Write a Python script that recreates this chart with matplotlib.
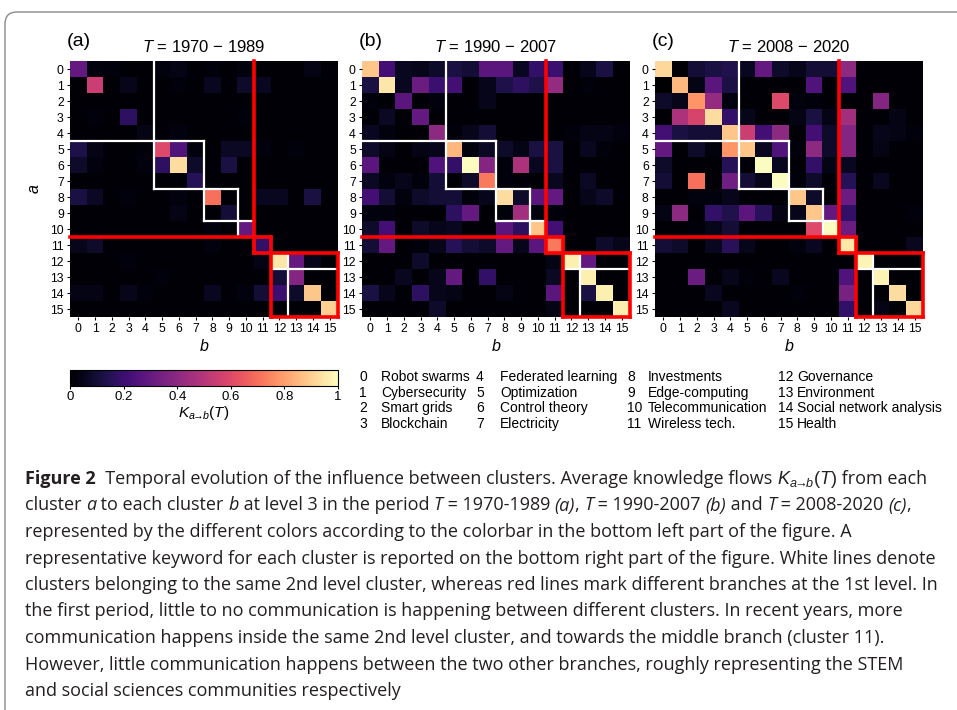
import numpy as np
import matplotlib
matplotlib.use("Agg")
import matplotlib.pyplot as plt
from matplotlib.patches import FancyBboxPatch

plt.rcParams['font.family'] = ['Liberation Sans', 'DejaVu Sans']
plt.rcParams['mathtext.fontset'] = 'custom'
plt.rcParams['mathtext.rm'] = 'Liberation Sans'
plt.rcParams['mathtext.it'] = 'Liberation Sans:italic'
plt.rcParams['mathtext.bf'] = 'Liberation Sans:bold'

# average knowledge flows K_{a->b}(T), rows = a, cols = b
K_1970_1989 = [
    [0.30,0.03,0.02,0.01,0.01,0.03,0.04,0.01,0.02,0.01,0.03,0.01,0.01,0.01,0.04,0.01],
    [0.01,0.55,0.01,0.05,0.01,0.01,0.02,0.01,0.06,0.01,0.08,0.06,0.01,0.01,0.01,0.01],
    [0.01,0.01,0.01,0.01,0.01,0.01,0.01,0.01,0.01,0.01,0.01,0.01,0.01,0.01,0.01,0.01],
    [0.01,0.02,0.01,0.17,0.01,0.01,0.01,0.01,0.01,0.01,0.02,0.01,0.01,0.01,0.01,0.01],
    [0.01,0.01,0.01,0.01,0.04,0.01,0.03,0.01,0.01,0.01,0.01,0.01,0.01,0.01,0.01,0.01],
    [0.13,0.04,0.01,0.01,0.02,0.60,0.25,0.03,0.01,0.07,0.07,0.03,0.01,0.02,0.01,0.01],
    [0.08,0.03,0.01,0.01,0.03,0.17,0.93,0.08,0.01,0.12,0.01,0.01,0.01,0.01,0.01,0.01],
    [0.01,0.01,0.01,0.01,0.01,0.01,0.01,0.15,0.01,0.01,0.01,0.01,0.01,0.01,0.01,0.01],
    [0.12,0.07,0.01,0.02,0.01,0.01,0.03,0.01,0.70,0.01,0.01,0.06,0.06,0.01,0.12,0.01],
    [0.01,0.01,0.01,0.01,0.01,0.01,0.04,0.01,0.01,0.10,0.01,0.01,0.01,0.01,0.01,0.01],
    [0.01,0.01,0.01,0.01,0.01,0.01,0.01,0.01,0.03,0.01,0.30,0.01,0.01,0.01,0.01,0.01],
    [0.05,0.08,0.01,0.01,0.01,0.01,0.01,0.01,0.03,0.01,0.01,0.18,0.01,0.01,0.01,0.01],
    [0.01,0.01,0.01,0.02,0.01,0.01,0.01,0.01,0.01,0.01,0.01,0.04,0.95,0.30,0.05,0.01],
    [0.01,0.01,0.01,0.01,0.01,0.02,0.01,0.01,0.01,0.01,0.01,0.01,0.10,0.38,0.01,0.01],
    [0.04,0.04,0.01,0.05,0.02,0.01,0.01,0.01,0.06,0.01,0.03,0.10,0.20,0.08,0.88,0.01],
    [0.01,0.01,0.01,0.01,0.01,0.01,0.01,0.01,0.01,0.01,0.01,0.01,0.01,0.01,0.01,0.90],
]

K_1990_2007 = [
    [0.88,0.22,0.06,0.05,0.08,0.12,0.10,0.28,0.28,0.06,0.18,0.20,0.01,0.05,0.12,0.01],
    [0.12,0.95,0.06,0.32,0.20,0.22,0.01,0.05,0.13,0.17,0.13,0.42,0.01,0.02,0.01,0.01],
    [0.02,0.01,0.28,0.01,0.03,0.01,0.01,0.05,0.01,0.01,0.01,0.01,0.01,0.01,0.01,0.01],
    [0.01,0.07,0.01,0.30,0.01,0.01,0.01,0.01,0.01,0.01,0.01,0.01,0.01,0.01,0.01,0.01],
    [0.06,0.03,0.01,0.01,0.40,0.02,0.05,0.10,0.01,0.01,0.01,0.01,0.02,0.04,0.04,0.03],
    [0.08,0.04,0.01,0.04,0.05,0.85,0.03,0.07,0.08,0.04,0.12,0.12,0.01,0.06,0.02,0.01],
    [0.28,0.01,0.01,0.01,0.25,0.18,1.00,0.38,0.02,0.48,0.06,0.12,0.01,0.01,0.01,0.01],
    [0.07,0.03,0.05,0.02,0.10,0.01,0.08,0.72,0.02,0.01,0.01,0.06,0.01,0.07,0.01,0.01],
    [0.22,0.10,0.03,0.08,0.10,0.10,0.02,0.05,0.93,0.08,0.28,0.30,0.01,0.05,0.08,0.01],
    [0.03,0.03,0.01,0.01,0.01,0.17,0.30,0.01,0.02,0.45,0.03,0.02,0.01,0.01,0.01,0.01],
    [0.08,0.22,0.01,0.08,0.05,0.06,0.01,0.01,0.28,0.17,0.88,0.22,0.01,0.01,0.01,0.01],
    [0.10,0.30,0.01,0.02,0.05,0.15,0.10,0.08,0.30,0.05,0.28,0.72,0.01,0.01,0.08,0.05],
    [0.01,0.01,0.01,0.08,0.01,0.01,0.01,0.01,0.01,0.01,0.01,0.04,0.97,0.30,0.01,0.01],
    [0.01,0.01,0.06,0.01,0.05,0.30,0.01,0.18,0.01,0.01,0.01,0.07,0.01,0.97,0.01,0.01],
    [0.12,0.05,0.01,0.17,0.05,0.04,0.01,0.01,0.04,0.01,0.01,0.28,0.01,0.12,0.97,0.01],
    [0.01,0.01,0.01,0.01,0.08,0.01,0.01,0.01,0.01,0.01,0.01,0.04,0.01,0.01,0.01,0.97],
]

K_2008_2020 = [
    [0.92,0.01,0.10,0.12,0.14,0.06,0.30,0.08,0.05,0.10,0.10,0.40,0.01,0.01,0.01,0.01],
    [0.00,0.85,0.04,0.28,0.12,0.01,0.01,0.01,0.01,0.25,0.01,0.25,0.01,0.01,0.01,0.01],
    [0.08,0.05,0.78,0.42,0.03,0.01,0.01,0.60,0.03,0.02,0.01,0.01,0.01,0.38,0.01,0.01],
    [0.01,0.48,0.58,0.93,0.18,0.05,0.01,0.01,0.04,0.12,0.04,0.45,0.01,0.01,0.04,0.01],
    [0.22,0.12,0.10,0.10,0.88,0.55,0.22,0.40,0.01,0.22,0.08,0.38,0.01,0.05,0.04,0.02],
    [0.30,0.01,0.08,0.03,0.78,0.88,0.06,0.25,0.02,0.40,0.08,0.38,0.01,0.04,0.01,0.01],
    [0.08,0.01,0.01,0.01,0.15,0.01,1.00,0.06,0.01,0.18,0.04,0.06,0.01,0.01,0.01,0.01],
    [0.10,0.01,0.70,0.01,0.33,0.10,0.05,1.00,0.02,0.08,0.01,0.15,0.01,0.06,0.01,0.01],
    [0.01,0.01,0.03,0.03,0.05,0.01,0.01,0.01,0.88,0.08,0.01,0.32,0.01,0.01,0.01,0.01],
    [0.04,0.40,0.01,0.18,0.14,0.28,0.16,0.04,0.05,0.88,0.30,0.18,0.01,0.01,0.01,0.02],
    [0.01,0.01,0.02,0.05,0.10,0.01,0.01,0.01,0.01,0.60,1.00,0.32,0.01,0.01,0.01,0.01],
    [0.10,0.08,0.01,0.06,0.16,0.05,0.01,0.01,0.03,0.06,0.01,0.95,0.01,0.01,0.01,0.06],
    [0.01,0.01,0.01,0.01,0.01,0.01,0.01,0.01,0.01,0.01,0.01,0.01,0.98,0.01,0.01,0.01],
    [0.01,0.01,0.32,0.01,0.05,0.02,0.01,0.06,0.01,0.01,0.01,0.25,0.01,0.98,0.01,0.01],
    [0.01,0.01,0.01,0.06,0.01,0.01,0.01,0.01,0.02,0.01,0.01,0.35,0.01,0.01,0.93,0.01],
    [0.01,0.01,0.01,0.01,0.06,0.01,0.01,0.01,0.01,0.01,0.01,0.18,0.01,0.04,0.01,0.92],
]

panels = ["(a)", "(b)", "(c)"]
periods = ["1970 \u2212 1989", "1990 \u2212 2007", "2008 \u2212 2020"]
matrices = [K_1970_1989, K_1990_2007, K_2008_2020]

# cluster hierarchy: 2nd level (white) and 1st level branches (red)
level2_blocks = [(0, 4), (5, 7), (8, 9), (10, 10), (11, 11), (12, 12), (13, 15)]
level1_blocks = [(0, 10), (11, 11), (12, 15)]

keywords = ["Robot swarms", "Cybersecurity", "Smart grids", "Blockchain",
            "Federated learning", "Optimization", "Control theory", "Electricity",
            "Investments", "Edge-computing", "Telecommunication", "Wireless tech.",
            "Governance", "Environment", "Social network analysis", "Health"]

KAB = r"$K_{a\!\!\rightarrow\!\!b}(T)$"

W, H = 957, 710
fig = plt.figure(figsize=(W / 100, H / 100), dpi=100)


def px(x, y):
    return x / W, 1 - y / H


# outer frame
frame = FancyBboxPatch((0.05, -0.5), 10.0, 7.48,
                       boxstyle="round,pad=0,rounding_size=0.12",
                       transform=fig.dpi_scale_trans, fill=False,
                       edgecolor="#8a8a8a", lw=1.0)
fig.patches.append(frame)


def block_lines(ax, blocks, color, lw):
    for s, e in blocks:
        lo, hi = s - 0.5, e + 0.5
        ax.plot([hi, hi], [lo, hi], color=color, lw=lw, clip_on=False, solid_capstyle="projecting")
        ax.plot([lo, hi], [hi, hi], color=color, lw=lw, clip_on=False, solid_capstyle="projecting")
        if s > 0:
            ax.plot([lo, lo], [lo, hi], color=color, lw=lw, clip_on=False, solid_capstyle="projecting")
            ax.plot([lo, hi], [lo, lo], color=color, lw=lw, clip_on=False, solid_capstyle="projecting")


lefts = [70, 362, 655]
aw, top, bot = 268, 61, 317
for i, M in enumerate(matrices):
    x0, y0 = px(lefts[i], bot)
    ax = fig.add_axes([x0, y0, aw / W, (bot - top) / H])
    im = ax.imshow(np.array(M), cmap="magma", vmin=0, vmax=1, aspect="auto",
                   interpolation="nearest")
    block_lines(ax, level2_blocks, "white", 1.6)
    block_lines(ax, level1_blocks, "#ff0000", 2.6)
    ax.set_xlim(-0.5, 15.5)
    ax.set_ylim(15.5, -0.5)
    ax.set_xticks(range(16))
    ax.set_yticks(range(16))
    ax.tick_params(labelsize=8.8, length=2.5, width=0.8, pad=2)
    for sp in ax.spines.values():
        sp.set_visible(False)
    ax.set_xlabel("b", style="italic", fontsize=11.5, labelpad=3)
    if i == 0:
        ax.set_ylabel("a", style="italic", fontsize=11.5, labelpad=6)
    fig.text(*px(lefts[i] - 3, 42), panels[i], fontsize=14, va="center", ha="left")
    fig.text(*px(lefts[i] + aw / 2, 47), "$T$ = " + periods[i], fontsize=12,
             va="center", ha="center")

# colorbar
cx, cy = px(70, 386)
cax = fig.add_axes([cx, cy, 268 / W, 16 / H])
cb = fig.colorbar(im, cax=cax, orientation="horizontal", ticks=[0, 0.2, 0.4, 0.6, 0.8, 1])
cb.ax.set_xticklabels(["0", "0.2", "0.4", "0.6", "0.8", "1"])
cb.ax.tick_params(labelsize=9.5, length=2, pad=1.5)
cb.outline.set_linewidth(0.8)
fig.text(*px(204, 413), KAB, fontsize=11, ha="center", va="center")

# keyword legend
num_x = [359, 476, 627, 778]
lab_x = [381, 500, 648, 797]
row_y = [377, 393, 408, 424]
for k, name in enumerate(keywords):
    c, r = k // 4, k % 4
    fig.text(*px(num_x[c], row_y[r]), str(k), fontsize=10, va="center", ha="left")
    fig.text(*px(lab_x[c], row_y[r]), name, fontsize=10, va="center", ha="left")

# caption, built from styled pieces
cap_font = ['Open Sans', 'DejaVu Sans']
cap_size = 13
caption = [
    [("Figure 2", "bold"), ("  Temporal evolution of the influence between clusters. Average knowledge flows ", ""),
     (KAB, ""), (" from each", "")],
    [("cluster ", ""), ("a", "it"), (" to each cluster ", ""), ("b", "it"),
     (" at level 3 in the period ", ""), ("T", "it"), (" = 1970-1989 ", ""), ("(a)", "it"),
     (", ", ""), ("T", "it"), (" = 1990-2007 ", ""), ("(b)", "it"), (" and ", ""), ("T", "it"),
     (" = 2008-2020 ", ""), ("(c)", "it"), (",", "")],
    [("represented by the different colors according to the colorbar in the bottom left part of the figure. A", "")],
    [("representative keyword for each cluster is reported on the bottom right part of the figure. White lines denote", "")],
    [("clusters belonging to the same 2nd level cluster, whereas red lines mark different branches at the 1st level. In", "")],
    [("the first period, little to no communication is happening between different clusters. In recent years, more", "")],
    [("communication happens inside the same 2nd level cluster, and towards the middle branch (cluster 11).", "")],
    [("However, little communication happens between the two other branches, roughly representing the STEM", "")],
    [("and social sciences communities respectively", "")],
]

renderer = fig.canvas.get_renderer()
for li, parts in enumerate(caption):
    x = 25
    y = 479 + 26.5 * li
    for txt, st in parts:
        kw = dict(fontsize=cap_size, family=cap_font, va="center", ha="left", color="#231f20")
        if st == "bold":
            kw["weight"] = "bold"
        if st == "it":
            kw["style"] = "italic"
        t = fig.text(*px(x, y), txt, **kw)
        bb = t.get_window_extent(renderer=renderer)
        x += bb.width

fig.savefig("out.png", dpi=100)
